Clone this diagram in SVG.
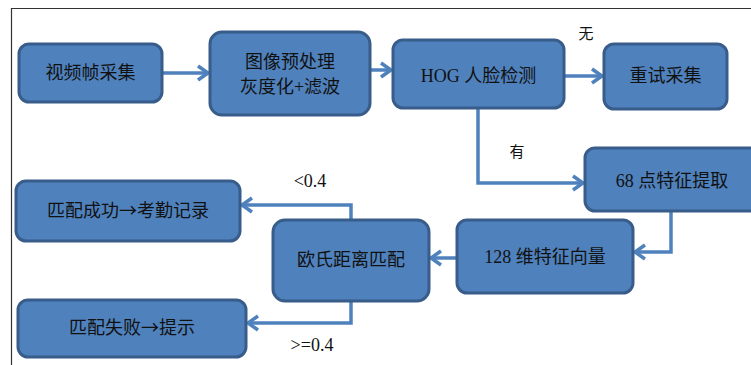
<svg xmlns="http://www.w3.org/2000/svg" width="751" height="365" viewBox="0 0 751 365">
<style>
.box{fill:#4F81BD;stroke:#385D8A;stroke-width:3}
.t{font-family:"Liberation Serif","Noto Sans CJK SC",serif;font-size:18px;fill:#111;text-anchor:middle}
.l{font-family:"Liberation Serif","Noto Sans CJK SC",serif;font-size:18px;fill:#111;text-anchor:middle}
.z{font-family:"Noto Sans CJK SC",sans-serif;font-size:15px;fill:#111;text-anchor:middle}
.ar{font-family:"Noto Sans CJK SC",sans-serif}
.c{fill:none;stroke:#4F81BD;stroke-width:3.5}
.frame{fill:none;stroke:#333;stroke-width:1.2}
</style>
<defs>
<marker id="a" markerUnits="userSpaceOnUse" markerWidth="20" markerHeight="20" viewBox="-12 -10 14 20" refX="0" refY="0" orient="auto">
<path d="M-10,-7 L0,0 L-10,7" fill="none" stroke="#4F81BD" stroke-width="3.5"/>
</marker>
</defs>
<rect width="751" height="365" fill="#fff"/>
<path class="frame" d="M751,8.5 H11.5 V365"/>
<g id="connectors">
<path class="c" d="M162,73 H208" marker-end="url(#a)"/>
<path class="c" d="M370,70 H391" marker-end="url(#a)"/>
<path class="c" d="M564,76 H602" marker-end="url(#a)"/>
<path class="c" d="M478,108 V183 H583" marker-end="url(#a)"/>
<path class="c" d="M671,211 V252 H635" marker-end="url(#a)"/>
<path class="c" d="M457,258 H431" marker-end="url(#a)"/>
<path class="c" d="M351,220 V205 H242" marker-end="url(#a)"/>
<path class="c" d="M351,301 V323 H248" marker-end="url(#a)"/>
</g>
<g id="n1"><rect class="box" x="19" y="44" width="143" height="58" rx="10"/><text class="t" x="90.5" y="79">视频帧采集</text></g>
<g id="n2"><rect class="box" x="210" y="32" width="160" height="83" rx="12"/><text class="t" x="290" y="68">图像预处理</text><text class="t" x="290" y="93">灰度化+滤波</text></g>
<g id="n3"><rect class="box" x="393" y="40" width="171" height="68" rx="10"/><text class="t" x="478.5" y="82">HOG 人脸检测</text></g>
<g id="n4"><rect class="box" x="604" y="44" width="123" height="65" rx="10"/><text class="t" x="665.5" y="82">重试采集</text></g>
<g id="n5"><rect class="box" x="585" y="148" width="175" height="63" rx="10"/><text class="t" x="672" y="187">68 点特征提取</text></g>
<g id="n6"><rect class="box" x="457" y="220" width="176" height="73" rx="10"/><text class="t" x="545" y="263">128 维特征向量</text></g>
<g id="n7"><rect class="box" x="273" y="220" width="156" height="81" rx="12"/><text class="t" x="351" y="266">欧氏距离匹配</text></g>
<g id="n8"><rect class="box" x="16" y="181" width="224" height="60" rx="10"/><text class="t" x="128" y="217">匹配成功<tspan class="ar">→</tspan>考勤记录</text></g>
<g id="n9"><rect class="box" x="18" y="300" width="228" height="57" rx="10"/><text class="t" x="132" y="334">匹配失败<tspan class="ar">→</tspan>提示</text></g>
<g id="labels">
<text class="z" x="586" y="39">无</text>
<text class="z" x="517" y="157">有</text>
<text class="l" x="310" y="187">&lt;0.4</text>
<text class="l" x="312" y="351">&gt;=0.4</text>
</g>
</svg>
